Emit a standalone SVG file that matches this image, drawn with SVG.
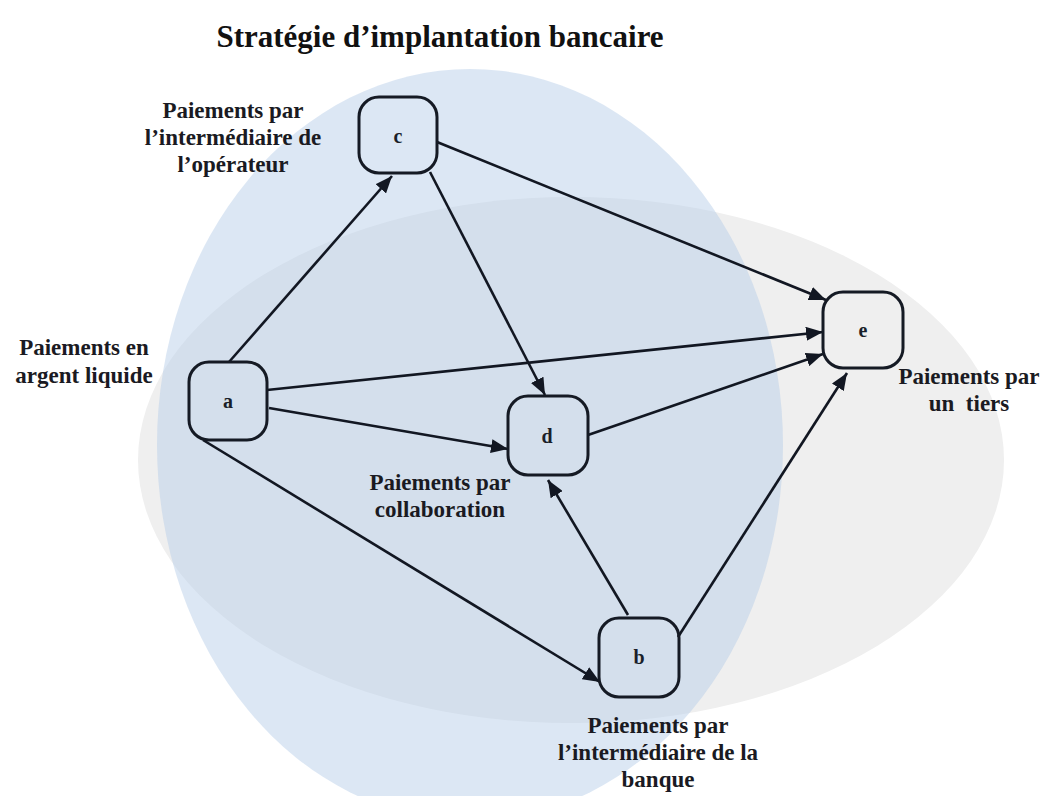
<svg xmlns="http://www.w3.org/2000/svg" width="1047" height="796" viewBox="0 0 1047 796">
<style>
.node rect{fill:none;stroke:#151a24;stroke-width:3}
.node text{font-family:"Liberation Serif","Times New Roman",serif;font-weight:bold;font-size:20px;fill:#1a1f2a;text-anchor:middle}
.lbl{font-family:"Liberation Serif","Times New Roman",serif;font-weight:bold;font-size:23px;fill:#1a1a22;text-anchor:middle}
.title{font-family:"Liberation Serif","Times New Roman",serif;font-weight:bold;font-size:31px;fill:#111;text-anchor:middle}
#edges line{stroke:#121722;stroke-width:2.6;marker-end:url(#arr)}
</style>
<defs>
<marker id="arr" markerUnits="userSpaceOnUse" markerWidth="18" markerHeight="14" refX="17" refY="7" orient="auto">
<path d="M0,0 L17,7 L0,14 z" fill="#121722"/>
</marker>
</defs>
<rect width="1047" height="796" fill="#ffffff"/>
<g id="background">
<ellipse cx="571" cy="460" rx="433" ry="263" fill="#efefef"/>
<ellipse cx="470" cy="445" rx="313" ry="376" fill="#b6cde8" fill-opacity="0.48"/>
</g>
<text class="title" x="440" y="47">Stratégie d’implantation bancaire</text>
<g id="edges">
<line x1="229" y1="362" x2="392" y2="176"/>
<line x1="437" y1="142" x2="826" y2="300"/>
<line x1="430" y1="172" x2="545" y2="395"/>
<line x1="267" y1="390" x2="823" y2="332"/>
<line x1="269" y1="408" x2="508" y2="449"/>
<line x1="588" y1="435" x2="823" y2="354"/>
<line x1="203" y1="440" x2="600" y2="682"/>
<line x1="628" y1="615" x2="548" y2="480"/>
<line x1="678" y1="637" x2="847" y2="373"/>
</g>
<g id="node-c" class="node"><rect x="359" y="97" width="78" height="76" rx="20"/><text x="398" y="143">c</text></g>
<g id="node-a" class="node"><rect x="189" y="362" width="78" height="78" rx="20"/><text x="228" y="408">a</text></g>
<g id="node-d" class="node"><rect x="508" y="396" width="80" height="79" rx="20"/><text x="547" y="443">d</text></g>
<g id="node-b" class="node"><rect x="599" y="618" width="80" height="79" rx="20"/><text x="639" y="664">b</text></g>
<g id="node-e" class="node"><rect x="823" y="292" width="80" height="76" rx="20"/><text x="863" y="337">e</text></g>
<g id="labels">
<text class="lbl" x="233" y="118">Paiements par</text>
<text class="lbl" x="233" y="145">l’intermédiaire de</text>
<text class="lbl" x="233" y="172">l’opérateur</text>
<text class="lbl" x="84" y="355">Paiements en</text>
<text class="lbl" x="84" y="383">argent liquide</text>
<text class="lbl" x="440" y="490">Paiements par</text>
<text class="lbl" x="440" y="517">collaboration</text>
<text class="lbl" x="658" y="733">Paiements par</text>
<text class="lbl" x="658" y="760">l’intermédiaire de la</text>
<text class="lbl" x="658" y="787">banque</text>
<text class="lbl" x="969" y="384">Paiements par</text>
<text class="lbl" x="969" y="411" style="white-space:pre" xml:space="preserve">un  tiers</text>
</g>
</svg>
